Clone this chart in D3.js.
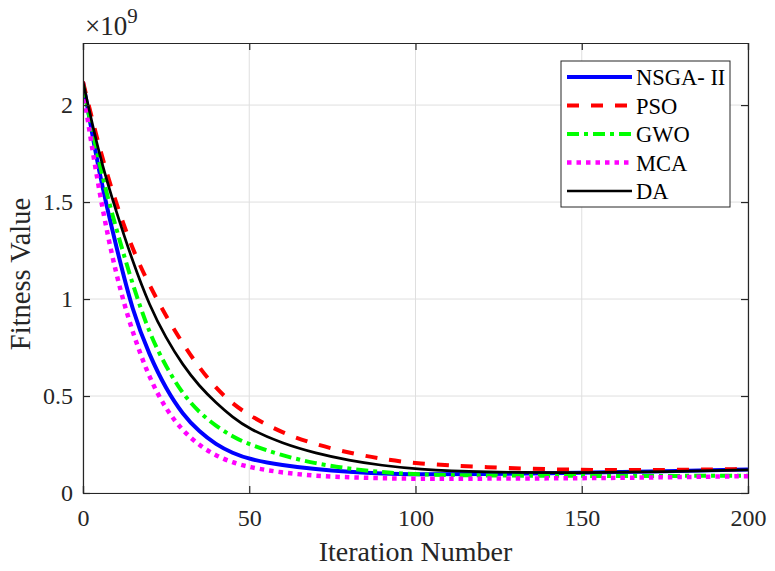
<!DOCTYPE html>
<html>
<head>
<meta charset="utf-8">
<script src="https://cdn.jsdelivr.net/npm/d3@7"></script>
<style>
  body { margin: 0; background: #fff; }
  svg text { font-family: "Liberation Serif", Tinos, "Times New Roman", Times, "DejaVu Serif", serif !important; }
</style>
</head>
<body>
<div id="chart-area"></div>
<script>
var iterations = [0, 5, 10, 15, 20, 25, 30, 35, 40, 45, 50, 60, 70, 80, 90, 100, 120, 150, 175, 200];

// fitness values in units of 1e9
var nsga = [2.12, 1.63, 1.27, 0.93, 0.71, 0.535, 0.405, 0.315, 0.25, 0.205, 0.174, 0.142, 0.122, 0.109, 0.1, 0.096, 0.096, 0.104, 0.112, 0.121];
var pso  = [2.12, 1.77, 1.49, 1.25, 1.07, 0.91, 0.77, 0.645, 0.54, 0.46, 0.4, 0.308, 0.25, 0.207, 0.175, 0.152, 0.132, 0.117, 0.118, 0.124];
var gwo  = [2.10, 1.68, 1.36, 1.07, 0.82, 0.65, 0.51, 0.415, 0.345, 0.29, 0.25, 0.192, 0.152, 0.125, 0.107, 0.095, 0.09, 0.088, 0.088, 0.089];
var mca  = [2.08, 1.53, 1.115, 0.82, 0.59, 0.43, 0.32, 0.245, 0.192, 0.157, 0.133, 0.104, 0.088, 0.081, 0.076, 0.073, 0.074, 0.076, 0.081, 0.087];
var da   = [2.12, 1.73, 1.45, 1.19, 0.965, 0.797, 0.66, 0.55, 0.465, 0.39, 0.33, 0.255, 0.205, 0.168, 0.142, 0.123, 0.107, 0.104, 0.11, 0.119];

var seriesNames = ["NSGA- II", "PSO", "GWO", "MCA", "DA"];
var xTicks = [0, 50, 100, 150, 200];
var yTicks = [0, 0.5, 1, 1.5, 2];

var series = [
    { name: seriesNames[0], values: nsga, color: "#0000ff", width: 4, dash: null },
    { name: seriesNames[1], values: pso,  color: "#ff0000", width: 4, dash: "12,12" },
    { name: seriesNames[2], values: gwo,  color: "#00ff00", width: 4, dash: "12,5,4,5" },
    { name: seriesNames[3], values: mca,  color: "#ff00ff", width: 4.5, dash: "4.5,5" },
    { name: seriesNames[4], values: da,   color: "#000000", width: 2.7, dash: null }
];

var W = 775, H = 571;
var pLeft = 83, pTop = 43, pRight = 748, pBottom = 493;

var svg = d3.select("#chart-area")
    .append("svg")
    .attr("width", W)
    .attr("height", H);

var x = d3.scaleLinear().domain([0, 200]).range([pLeft, pRight]);
var y = d3.scaleLinear().domain([0, 2.32]).range([pBottom, pTop]);

// grid
svg.append("g").selectAll("line")
    .data(xTicks)
    .enter().append("line")
    .attr("x1", function(d) { return x(d); })
    .attr("x2", function(d) { return x(d); })
    .attr("y1", pTop).attr("y2", pBottom)
    .attr("stroke", "#dfdfdf").attr("stroke-width", 1);

svg.append("g").selectAll("line")
    .data(yTicks)
    .enter().append("line")
    .attr("y1", function(d) { return y(d); })
    .attr("y2", function(d) { return y(d); })
    .attr("x1", pLeft).attr("x2", pRight)
    .attr("stroke", "#dfdfdf").attr("stroke-width", 1);

// curves
var line = d3.line()
    .x(function(d, i) { return x(iterations[i]); })
    .y(function(d) { return y(d); })
    .curve(d3.curveBasis);

svg.append("defs").append("clipPath").attr("id", "clip")
    .append("rect")
    .attr("x", pLeft).attr("y", pTop)
    .attr("width", pRight - pLeft).attr("height", pBottom - pTop);

svg.append("g").attr("clip-path", "url(#clip)")
    .selectAll("path")
    .data(series)
    .enter().append("path")
    .attr("d", function(d) { return line(d.values); })
    .attr("fill", "none")
    .attr("stroke", function(d) { return d.color; })
    .attr("stroke-width", function(d) { return d.width; })
    .attr("stroke-dasharray", function(d) { return d.dash; });

// axes (MATLAB style: box, inward ticks)
var xAxis = d3.axisBottom(x).tickValues(xTicks).tickSize(-7).tickPadding(16).tickFormat(d3.format("d"));
var yAxis = d3.axisLeft(y).tickValues(yTicks).tickSize(-7).tickPadding(16).tickFormat(function(d) { return d; });

var gx = svg.append("g").attr("transform", "translate(0," + pBottom + ")").call(xAxis);
var gy = svg.append("g").attr("transform", "translate(" + pLeft + ",0)").call(yAxis);
var gxTop = svg.append("g").attr("transform", "translate(0," + pTop + ")")
    .call(d3.axisTop(x).tickValues(xTicks).tickSize(-7).tickFormat(""));
var gyRight = svg.append("g").attr("transform", "translate(" + pRight + ",0)")
    .call(d3.axisRight(y).tickValues(yTicks).tickSize(-7).tickFormat(""));

[gx, gy, gxTop, gyRight].forEach(function(g) {
    g.attr("font-family", null);
    g.select(".domain").attr("stroke", "#262626").attr("stroke-width", 1.2);
    g.selectAll(".tick line").attr("stroke", "#262626").attr("stroke-width", 1.2);
    g.selectAll("text")
        .attr("font-size", "24px")
        .attr("fill", "#262626");
});
gx.selectAll("text").attr("dy", "0.71em").attr("y", 16);
gy.selectAll("text").attr("x", -10);

// exponent label
var expLabel = svg.append("text")
    .attr("x", 85)
    .attr("y", 35)
    .attr("fill", "#262626")
    .attr("font-size", "27px");
expLabel.append("tspan").text("\u00d710");
expLabel.append("tspan")
    .attr("font-size", "21px")
    .attr("dy", "-12")
    .text("9");

// axis labels
svg.append("text")
    .attr("x", (pLeft + pRight) / 2)
    .attr("y", 561)
    .attr("text-anchor", "middle")
    .attr("fill", "#262626")
    .attr("font-size", "28px")
    .text("Iteration Number");

svg.append("text")
    .attr("transform", "translate(30," + 274 + ") rotate(-90)")
    .attr("text-anchor", "middle")
    .attr("fill", "#262626")
    .attr("font-size", "28.5px")
    .text("Fitness Value");

// legend
var legend = svg.append("g").attr("transform", "translate(561,61)");
legend.append("rect")
    .attr("width", 169).attr("height", 146)
    .attr("fill", "#fff")
    .attr("stroke", "#262626")
    .attr("stroke-width", 1);

var rows = legend.selectAll("g")
    .data(series)
    .enter().append("g")
    .attr("transform", function(d, i) { return "translate(0," + (16 + i * 28.5) + ")"; });

rows.append("line")
    .attr("x1", 6).attr("x2", 71)
    .attr("stroke", function(d) { return d.color; })
    .attr("stroke-width", function(d) { return d.width; })
    .attr("stroke-dasharray", function(d) { return d.dash; });

rows.append("text")
    .attr("x", 75)
    .attr("y", 8)
    .attr("font-size", "22.5px")
    .attr("fill", "#000")
    .text(function(d) { return d.name; });
</script>
</body>
</html>
